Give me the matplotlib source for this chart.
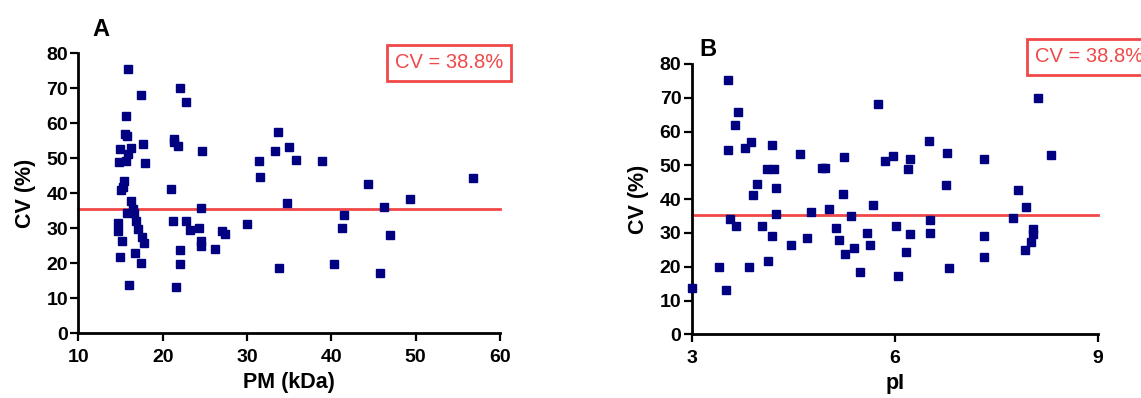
import matplotlib
matplotlib.use('Agg')
import matplotlib.pyplot as plt

plt.rcParams['font.family'] = ['Liberation Sans', 'DejaVu Sans']

# panel A: molecular mass (kDa) vs CV (%)
pm = [15.9, 17.4, 15.7, 15.5, 15.8, 17.7, 15.0, 16.2, 15.9, 14.8, 15.6, 17.9, 15.4, 15.3, 15.1,
      16.3, 16.5, 15.8, 16.6, 16.8, 14.7, 14.7, 17.1, 17.6, 17.8, 15.2, 16.7, 14.9, 17.4, 16.0,
      22.1, 22.8, 21.3, 21.4, 21.8, 24.7, 21.0, 24.6, 21.2, 22.8, 23.3, 24.3, 24.5, 24.6, 26.2,
      27.0, 27.4, 30.0, 22.0, 22.1, 21.6,
      33.7, 33.3, 35.0, 35.8, 38.9, 31.4, 31.5, 34.7, 44.3, 49.3, 56.8, 46.3, 41.5, 41.3, 46.9,
      33.8, 40.3, 45.8]
cv_a = [75.5, 68.2, 62.2, 56.9, 56.3, 54.0, 52.6, 53.0, 51.1, 48.9, 49.2, 48.7, 43.5, 41.9, 40.9,
        37.7, 35.5, 34.4, 34.4, 32.2, 31.6, 29.3, 29.7, 27.4, 25.7, 26.5, 23.0, 21.8, 20.1, 13.8,
        70.2, 66.1, 55.4, 54.7, 53.5, 52.2, 41.2, 35.7, 32.1, 32.2, 29.6, 30.2, 26.5, 24.9, 24.2,
        29.2, 28.5, 31.3, 23.8, 19.7, 13.1,
        57.5, 52.0, 53.3, 49.5, 49.3, 49.1, 44.6, 37.2, 42.7, 38.3, 44.3, 36.2, 33.8, 30.0, 28.0,
        18.6, 19.9, 17.1]

# panel B: pI vs CV (%)
pi = [3.53, 3.69, 3.64, 3.53, 3.79, 3.88, 4.18, 4.11, 4.22, 3.96, 3.91, 4.24, 4.25, 3.56, 3.65,
      4.04, 4.19, 3.41, 3.84, 4.12, 3.50, 3.01,
      4.60, 4.47, 4.70, 4.76, 4.93, 4.97, 5.03, 5.25, 5.23, 5.35, 5.13, 5.17, 5.26, 5.40, 5.49,
      5.75, 5.67, 5.59, 5.63, 5.86, 5.98, 6.02, 6.05,
      6.22, 6.20, 6.51, 6.77, 7.32, 8.11, 8.31, 6.76, 7.82, 7.93, 7.75, 6.52, 6.22, 6.52, 7.31,
      8.04, 8.04, 8.01, 7.92, 6.17, 7.31, 6.80]
cv_b = [75.4, 65.9, 62.0, 54.5, 55.2, 56.8, 56.1, 49.0, 48.8, 44.5, 41.1, 43.3, 35.5, 34.2, 32.0,
        32.1, 29.2, 20.0, 19.8, 21.8, 13.1, 13.8,
        53.4, 26.4, 28.4, 36.1, 49.2, 49.2, 37.1, 52.4, 41.5, 35.0, 31.4, 27.9, 23.8, 25.5, 18.5,
        68.1, 38.3, 30.0, 26.3, 51.2, 52.9, 32.1, 17.2,
        52.0, 49.0, 57.3, 53.7, 51.8, 69.9, 53.2, 44.1, 42.6, 37.6, 34.3, 33.7, 29.6, 30.1, 29.1,
        31.3, 29.6, 27.4, 24.9, 24.3, 22.9, 19.6]

ref_line = 35.4
cv_text = 'CV = 38.8%'
y_ticks = [0, 10, 20, 30, 40, 50, 60, 70, 80]

W, H = 1141, 398
fig = plt.figure(figsize=(W / 100, H / 100), dpi=100)
navy = '#000080'
red = '#f04848'


def px(x, y):
    return x / W, 1 - y / H


def setup(ax, xlim, xticks, xlabel):
    ax.plot(list(xlim), [ref_line, ref_line], color=red, lw=2, zorder=2, clip_on=False)
    ax.set_xlim(*xlim)
    ax.set_ylim(0, 80)
    ax.set_xticks(xticks)
    ax.set_yticks(y_ticks)
    for s in ['top', 'right']:
        ax.spines[s].set_visible(False)
    for s in ['left', 'bottom']:
        ax.spines[s].set_linewidth(2)
    ax.tick_params(direction='out', length=6, width=1.6, labelsize=14)
    ax.tick_params(axis='y', pad=1.5)
    ax.tick_params(axis='x', pad=5.5)
    for lab in ax.get_xticklabels() + ax.get_yticklabels():
        lab.set_fontweight('bold')
    ax.set_xlabel(xlabel, fontsize=15.5, fontweight='bold', labelpad=4)
    ax.set_ylabel('CV (%)', fontsize=15.5, fontweight='bold', labelpad=7.5)


axA = fig.add_axes([78.3 / W, 1 - 333.3 / H, (500 - 78.3) / W, 280 / H])
axA.plot(pm, cv_a, 's', color=navy, ms=5.6, zorder=3, clip_on=False)
setup(axA, (10, 60), [10, 20, 30, 40, 50, 60], 'PM (kDa)')

axB = fig.add_axes([691.7 / W, 1 - 334.3 / H, (1098 - 691.7) / W, 270.3 / H])
axB.plot(pi, cv_b, 's', color=navy, ms=5.6, zorder=3, clip_on=False)
setup(axB, (3, 9), [3, 6, 9], 'pI')

fig.text(*px(101, 29), 'A', fontsize=17, fontweight='bold', ha='center', va='center')
fig.text(*px(708, 50), 'B', fontsize=17, fontweight='bold', ha='center', va='center')

box = dict(boxstyle='square,pad=0.4', fc='white', ec=red, lw=2)
fig.text(*px(395, 63), cv_text, fontsize=14.5, color=red, ha='left', va='center', bbox=box)
fig.text(*px(1035, 57), cv_text, fontsize=14.5, color=red, ha='left', va='center', bbox=box)

fig.savefig('out.png', dpi=100)
